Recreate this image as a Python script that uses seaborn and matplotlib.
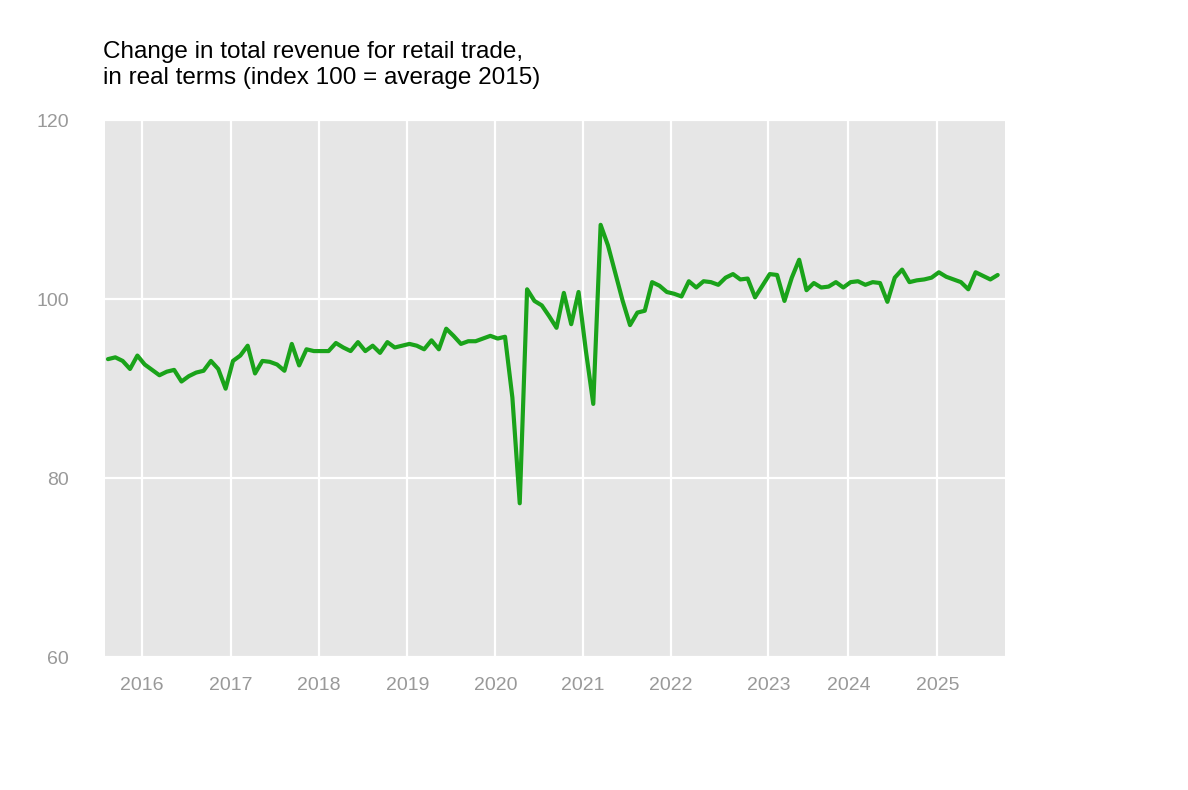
import matplotlib
matplotlib.use("Agg")
import matplotlib.pyplot as plt
import numpy as np
import pandas as pd
import seaborn as sns

# monthly index values
revenue = [
    93.3, 93.5, 93.1, 92.2, 93.7, 92.7, 92.1, 91.5, 91.9, 92.1, 90.8, 91.4,
    91.8, 92.0, 93.1, 92.2, 90.0, 93.1, 93.7, 94.8, 91.7, 93.1, 93.0, 92.7,
    92.0, 95.0, 92.6, 94.4, 94.2, 94.2, 94.2, 95.1, 94.6, 94.2, 95.2, 94.2,
    94.8, 94.0, 95.2, 94.6, 94.8, 95.0, 94.8, 94.4, 95.4, 94.4, 96.7, 95.9,
    95.0, 95.3, 95.3, 95.6, 95.9, 95.6, 95.8, 89.0, 77.2, 101.1, 99.8, 99.3,
    98.1, 96.8, 100.7, 97.2, 100.8, 94.2, 88.3, 108.3, 106.0, 102.9, 99.8, 97.1,
    98.5, 98.7, 101.9, 101.5, 100.8, 100.6, 100.3, 102.0, 101.3, 102.0, 101.9, 101.6,
    102.4, 102.8, 102.2, 102.3, 100.2, 101.5, 102.8, 102.7, 99.8, 102.4, 104.4, 101.0,
    101.8, 101.3, 101.4, 101.9, 101.3, 101.9, 102.0, 101.6, 101.9, 101.8, 99.7, 102.4,
    103.3, 101.9, 102.1, 102.2, 102.4, 103.0, 102.5, 102.2, 101.9, 101.1, 103.0, 102.6,
    102.2, 102.7,
]
year_labels = ["2016", "2017", "2018", "2019", "2020", "2021", "2022", "2023", "2024", "2025"]
year_pos = [4.6, 16.7, 28.7, 40.7, 52.7, 64.6, 76.6, 89.8, 100.7, 112.8]
y_ticks = [60, 80, 100, 120]

df = pd.DataFrame({"t": np.arange(len(revenue)), "value": revenue})

sns.set_theme(style="darkgrid", rc={"axes.facecolor": "#e6e6e6", "grid.color": "white",
                                    "grid.linewidth": 1.6})
plt.rcParams["font.family"] = ["Liberation Sans", "DejaVu Sans"]

fig = plt.figure(figsize=(11.88, 7.9), dpi=100)
ax = fig.add_axes([0.0884, 0.168, 0.7576, 0.68])

sns.lineplot(data=df, x="t", y="value", ax=ax, color="#1aa31a", linewidth=3)

ax.set_xlim(-0.4, 122.0)
ax.set_ylim(60, 120)
ax.set_xticks(year_pos)
ax.set_xticklabels(year_labels)
ax.set_yticks(y_ticks)
ax.tick_params(axis="both", colors="#999999", labelsize=14, length=0)
ax.tick_params(axis="y", pad=26)
ax.tick_params(axis="x", pad=14)
ax.set_xlabel("")
ax.set_ylabel("")
for s in ax.spines.values():
    s.set_visible(False)

fig.text(0.087, 0.887, "Change in total revenue for retail trade,\nin real terms (index 100 = average 2015)",
         fontsize=17.5, color="black", va="bottom", ha="left", linespacing=1.25)

fig.savefig("out.png", dpi=100)
